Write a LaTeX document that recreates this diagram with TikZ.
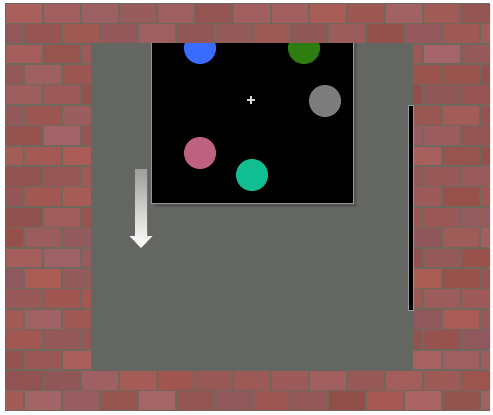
\documentclass[tikz,border=0pt]{standalone}
\begin{document}
\begin{tikzpicture}[x=1pt,y=-1pt]
\definecolor{mortar}{RGB}{112,104,92}
\definecolor{brickA}{RGB}{172,92,84}
\definecolor{brickB}{RGB}{168,104,108}
\definecolor{panel}{RGB}{100,102,98}
\definecolor{shadowc}{RGB}{84,86,83}
\definecolor{frame}{RGB}{150,150,150}
\definecolor{cblue}{RGB}{58,108,255}
\definecolor{cgreen}{RGB}{46,125,16}
\definecolor{cgray}{RGB}{125,124,125}
\definecolor{cpink}{RGB}{190,96,128}
\definecolor{cteal}{RGB}{16,190,145}
\tikzset{disc/.style={circle,minimum size=32pt,inner sep=0pt,draw=none}}
\useasboundingbox (0,0) rectangle (493,415);
\fill[white] (0,0) rectangle (493,415);
% brick wall
\fill[mortar] (5,3) rectangle (490,411);
\begin{scope}
\clip (5,3) rectangle (490,411);
\pgfmathsetseed{11}
\foreach \r in {0,...,19} {
  \pgfmathsetmacro\yy{3+\r*20.4}
  \pgfmathsetmacro\off{mod(\r,2)*19}
  \foreach \c in {0,...,13} {
    \pgfmathsetmacro\xx{5-\off+\c*38}
    \pgfmathtruncatemacro\s{rnd*100}
    \pgfmathtruncatemacro\t{85+rnd*15}
    \fill[brickA!\s!brickB!\t!black] (\xx+0.7,\yy+0.8) rectangle (\xx+37.3,\yy+19.6);
  }
}
\end{scope}
% panel
\fill[panel] (91,43) rectangle (413,371);
% screen
\fill[shadowc] (155,43) rectangle (357,207);
\fill[black] (151,43) rectangle (353,203);
\begin{scope}
\clip (151,43) rectangle (353,203);
\node[disc,fill=cblue] (blue) at (200,48) {};
\node[disc,fill=cgreen] (green) at (304,48) {};
\node[disc,fill=cgray] (grey) at (325,101) {};
\node[disc,fill=cpink] (pink) at (200,153) {};
\node[disc,fill=cteal] (teal) at (252,175) {};
\end{scope}
\draw[frame,line width=0.8pt] (151,43) -- (151,203) -- (353,203) -- (353,43);
\coordinate (fix) at (251,100);
\draw[white!70!gray,line width=1.1pt] ([xshift=-4pt]fix) -- ([xshift=4pt]fix)
  ([yshift=-4pt]fix) -- ([yshift=4pt]fix);
% arrow
\shade[top color=white!62!black,bottom color=white]
  (135,169) -- (147,169) -- (147,236) -- (152.5,236) -- (141,248) -- (129.5,236) -- (135,236) -- cycle;
% bar
\fill[black,draw=frame,line width=0.5pt] (408,105.5) rectangle (413,310);
\end{tikzpicture}
\end{document}
